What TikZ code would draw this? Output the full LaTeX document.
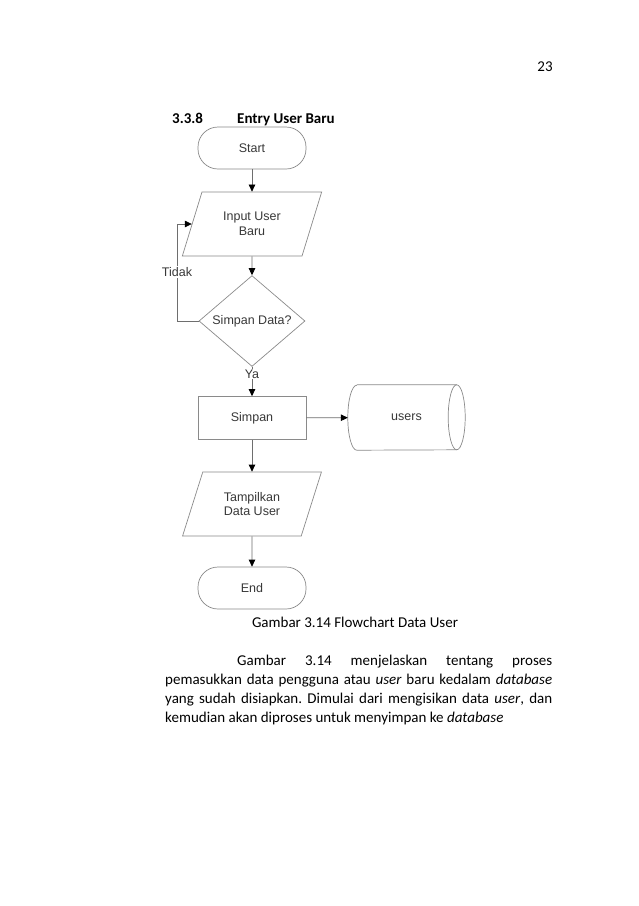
\documentclass[tikz,border=0pt]{standalone}
\usepackage{fontspec}
\setmainfont{Carlito}
\newfontfamily\arialf{Liberation Sans}
\usetikzlibrary{shapes.geometric,arrows.meta}
\definecolor{linegray}{HTML}{8A8A8A}
\definecolor{arrgray}{HTML}{6E6E6E}
\definecolor{txtgray}{HTML}{383838}
\begin{document}
\frenchspacing
\begin{tikzpicture}[x=1pt,y=-1pt,
  shapeline/.style={draw=linegray, line width=0.7pt, font=\arialf\fontsize{12.5}{14.5}\selectfont, text=txtgray, align=center, inner sep=0pt},
  term/.style={shapeline, rectangle, rounded corners=20pt, minimum width=108pt, minimum height=42pt},
  procbox/.style={shapeline, rectangle, minimum width=108pt, minimum height=43pt},
  iobox/.style={shapeline, trapezium, trapezium left angle=64, trapezium right angle=116, trapezium stretches=true, minimum width=140pt, minimum height=64pt},
  decbox/.style={shapeline, diamond, minimum width=106pt, minimum height=63pt},
  dbbox/.style={draw=none, rectangle, inner sep=0pt, font=\arialf\fontsize{12.5}{14.5}\selectfont, text=txtgray, text height=6.5pt, text depth=0pt, minimum width=117pt, minimum height=65pt},
  dbline/.style={draw=linegray, line width=0.7pt},
  arr/.style={draw=arrgray, line width=0.7pt, -{Triangle[length=7pt,width=6.5pt,color=black]}},
  lbl/.style={font=\arialf\fontsize{12.5}{14.5}\selectfont, text=txtgray, fill=white, inner sep=1pt},
  body/.style={font=\fontsize{15}{19}\selectfont, inner sep=0pt, text=black}
]
\fill[white] (0,0) rectangle (638,906);
\useasboundingbox (0,0) rectangle (638,906);

% page texts
\node[body, anchor=base] (pgnum) at (545,71) {23};
\node[body, anchor=base west] (secnum) at (172,123) {\bfseries 3.3.8};
\node[body, anchor=base west] (sectitle) at (237,123) {\bfseries Entry User Baru};

% flowchart
\node[term] (start) at (252,148) {Start};
\node[iobox] (input) at (252,224) {Input User\\Baru};
\node[decbox] (dec) at (252,321) {Simpan Data?};
\node[procbox] (simpan) at (252,418) {Simpan};
\node[dbbox] (users) at (406.5,417.5) {users};
\node[iobox] (tampil) at (252,504) {Tampilkan\\Data User};
\node[term] (end) at (252,588) {End};

% database cylinder outline
\draw[dbline] ([xshift=9pt]users.north west) -- ([xshift=-8.5pt]users.north east)
  arc[start angle=90, end angle=-90, x radius=8.5pt, y radius=32.5pt]
  -- ([xshift=9pt]users.south west)
  arc[start angle=270, end angle=90, x radius=9pt, y radius=32.5pt];
\draw[dbline] ([xshift=-8.5pt]users.north east)
  arc[start angle=90, end angle=270, x radius=8.5pt, y radius=32.5pt];

\coordinate (loopc) at (177,321);

\draw[arr] (start) -- (input);
\draw[arr] (input) -- (dec);
\draw[arr] (dec.west) -- (loopc) |- (input.left side);
\draw[arr] (dec) -- (simpan);
\draw[arr] (simpan) -- (users);
\draw[arr] (simpan) -- (tampil);
\draw[arr] (tampil) -- (end);

\node[lbl] (tidak) at (177,272) {Tidak};
\node[lbl] (ya) at (252,374) {Ya};

% caption and paragraph
\node[body, anchor=base] (caption) at (355,627) {Gambar 3.14 Flowchart Data User};
\node[body, anchor=base west] (l1) at (237,665) {\makebox[315pt][s]{Gambar 3.14 menjelaskan tentang proses}};
\node[body, anchor=base west] (l2) at (165,684) {\makebox[387pt][s]{pemasukkan data pengguna atau \textit{user} baru kedalam \textit{database}}};
\node[body, anchor=base west] (l3) at (165,703) {\makebox[387pt][s]{yang sudah disiapkan. Dimulai dari mengisikan data \textit{user}, dan}};
\node[body, anchor=base west] (l4) at (165,722) {kemudian akan diproses untuk menyimpan ke \textit{database}};
\end{tikzpicture}
\end{document}
